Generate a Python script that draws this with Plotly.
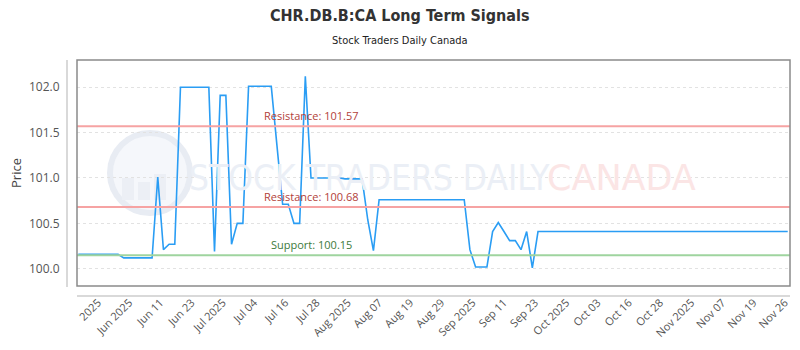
import plotly.graph_objects as go

# ---- data ----
prices = (
    [100.16] * 8 + [100.12] * 6 + [101.01, 100.21] + [100.27] * 2 + [102.00] * 6
    + [100.19] + [101.91] * 2 + [100.27] + [100.50] * 2 + [102.01] * 5 + [101.36]
    + [100.71] * 2 + [100.50] * 2 + [102.12] + [101.00] * 6 + [100.99] * 4
    + [100.54, 100.20] + [100.76] * 16 + [100.21] + [100.02] * 3
    + [100.41, 100.51, 100.41] + [100.31] * 2 + [100.21, 100.41, 100.01]
    + [100.41] * 45
)
session = list(range(len(prices)))

tick_labels = ["2025", "Jun 2025", "Jun 11", "Jun 23", "Jul 2025", "Jul 04", "Jul 16",
               "Jul 28", "Aug 2025", "Aug 07", "Aug 19", "Aug 29", "Sep 2025", "Sep 11",
               "Sep 23", "Oct 2025", "Oct 03", "Oct 16", "Oct 28", "Nov 2025", "Nov 07",
               "Nov 19", "Nov 26"]

levels = [("Resistance", 101.57), ("Resistance", 100.68), ("Support", 100.15)]

# ---- layout helpers ----
first_tick, last_tick = 3.47, 124.5
tick_step = (last_tick - first_tick) / (len(tick_labels) - 1)
tick_vals = [first_tick + tick_step * k for k in range(len(tick_labels))]

fig = go.Figure()

# watermark logo (behind everything)
fig.add_shape(type="circle", xref="paper", yref="paper",
              x0=(110 - 77) / 713, x1=(190 - 77) / 713,
              y0=(286 - 213) / 226, y1=(286 - 133) / 226,
              line=dict(color="#e8ecf3", width=6), fillcolor="#f5f7fb", layer="below")
for bx, bh in [(128, 22), (144, 18), (160, 26)]:
    fig.add_shape(type="rect", xref="paper", yref="paper",
                  x0=(bx - 6 - 77) / 713, x1=(bx + 6 - 77) / 713,
                  y0=(286 - 200) / 226, y1=(286 - 200 + bh) / 226,
                  line=dict(width=0), fillcolor="#eceff5", layer="below")
fig.add_annotation(text="STOCK TRADERS DAILY", xref="paper", yref="paper",
                   x=(369 - 77) / 713, y=(286 - 178) / 226, showarrow=False,
                   font=dict(family="DejaVu Sans Condensed", size=35, color="#ebeff6"),
                   xanchor="center", yanchor="middle")
fig.add_annotation(text="CANADA", xref="paper", yref="paper",
                   x=(621 - 77) / 713, y=(286 - 178) / 226, showarrow=False,
                   font=dict(family="DejaVu Sans", size=35, color="#fbe5e5"),
                   xanchor="center", yanchor="middle")

# signal levels
for name, val in levels:
    is_sup = name == "Support"
    fig.add_hline(y=val, line=dict(color="#9fd49f" if is_sup else "#f6a3a3", width=2),
                  layer="above")
    fig.add_annotation(text=f"{name}: {val:.2f}", xref="paper", y=val, yref="y",
                       x=(311 - 77) / 713, xanchor="center", showarrow=False,
                       yanchor="bottom", yshift=1,
                       font=dict(family="Open Sans", size=11,
                                 color="#3c7a3c" if is_sup else "#b2413a"))

fig.add_trace(go.Scatter(x=session, y=prices, mode="lines",
                         line=dict(color="#2a9df4", width=1.6), hoverinfo="skip"))

# frame and offset axis lines
fig.add_shape(type="rect", xref="paper", yref="paper", x0=0, x1=1, y0=0, y1=1,
              line=dict(color="#8a8a8a", width=1.5))
fig.add_shape(type="line", xref="paper", yref="paper", x0=-10 / 713, x1=-10 / 713,
              y0=-1 / 226, y1=1, line=dict(color="#cccccc", width=1.5))
fig.add_shape(type="line", xref="paper", yref="paper", x0=0, x1=1,
              y0=-10 / 226, y1=-10 / 226, line=dict(color="#cccccc", width=1.5))

fig.add_annotation(text="<b>CHR.DB.B:CA Long Term Signals</b>", xref="paper", yref="paper",
                   x=(400 - 77) / 713, y=(286 - 16) / 226, showarrow=False,
                   font=dict(family="DejaVu Sans Condensed", size=16, color="#333333"),
                   xanchor="center", yanchor="middle")
fig.add_annotation(text="Stock Traders Daily Canada", xref="paper", yref="paper",
                   x=(400 - 77) / 713, y=(286 - 40) / 226, showarrow=False,
                   font=dict(family="DejaVu Sans Condensed", size=11, color="#222222"),
                   xanchor="center", yanchor="middle")

fig.update_layout(
    width=800, height=350,
    margin=dict(l=77, r=10, t=60, b=64),
    paper_bgcolor="white", plot_bgcolor="white",
    showlegend=False,
    font=dict(family="Open Sans", size=11, color="#555555"),
    xaxis=dict(range=[-0.23, 125.4], tickvals=tick_vals, ticktext=tick_labels,
               tickangle=-45, showgrid=False, zeroline=False, showline=False,
               ticks="outside", ticklen=5, tickcolor="rgba(0,0,0,0)",
               tickfont=dict(family="Open Sans", size=11, color="#555555")),
    yaxis=dict(range=[99.81, 102.30], dtick=0.5, tickformat=".1f",
               showgrid=True, gridcolor="#e2e2e2", griddash="dot", gridwidth=1,
               zeroline=False, showline=False,
               ticks="outside", ticklen=14, tickcolor="rgba(0,0,0,0)",
               title=dict(text="Price", font=dict(family="Open Sans", size=13, color="#444444"),
                          standoff=4),
               tickfont=dict(family="Open Sans", size=12, color="#555555")),
)

fig.write_html("out.html")
